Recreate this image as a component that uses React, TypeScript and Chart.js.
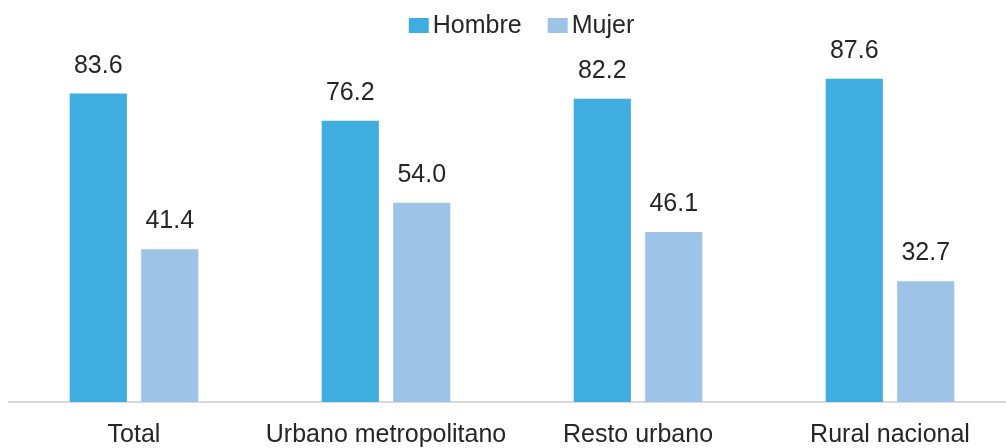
import React, { useEffect, useRef } from "react";
import { Chart, registerables } from "chart.js";

Chart.register(...registerables);

const categories = ["Total", "Urbano metropolitano", "Resto urbano", "Rural nacional"];
const hombreValues = [83.6, 76.2, 82.2, 87.6];
const mujerValues = [41.4, 54.0, 46.1, 32.7];
const seriesNames = ["Hombre", "Mujer"];
const seriesColors = ["#3FADE0", "#9DC3E6"];

const FONT = '"Liberation Sans", Arial, sans-serif';
const TEXT_COLOR = "#262626";

const valueLabelPlugin = {
  id: "valueLabels",
  afterDatasetsDraw(chart: any) {
    const ctx = chart.ctx;
    ctx.save();
    ctx.font = `25px ${FONT}`;
    ctx.fillStyle = TEXT_COLOR;
    ctx.textAlign = "center";
    ctx.textBaseline = "alphabetic";
    chart.data.datasets.forEach((ds: any, i: number) => {
      const meta = chart.getDatasetMeta(i);
      meta.data.forEach((bar: any, j: number) => {
        const v = ds.data[j] as number;
        ctx.fillText(v.toFixed(1), bar.x, bar.y - 21);
      });
    });
    ctx.restore();
  },
};

const customLegendPlugin = {
  id: "customLegend",
  afterDraw(chart: any) {
    const ctx = chart.ctx;
    ctx.save();
    ctx.font = `25px ${FONT}`;
    const boxW = 20;
    const boxH = 15;
    const gap = 4;
    const itemGap = 26;
    const items = chart.data.datasets.map((ds: any) => ({
      label: ds.label,
      color: ds.backgroundColor,
      w: ctx.measureText(ds.label).width,
    }));
    const total =
      items.reduce((s: number, it: any) => s + boxW + gap + it.w, 0) +
      itemGap * (items.length - 1);
    let x = chart.width / 2 + 9.5 - total / 2;
    const baseY = 25;
    items.forEach((it: any) => {
      ctx.fillStyle = it.color;
      ctx.fillRect(x, baseY - boxH, boxW, boxH);
      x += boxW + gap;
      ctx.fillStyle = TEXT_COLOR;
      ctx.textAlign = "left";
      ctx.textBaseline = "alphabetic";
      ctx.fillText(it.label, x, baseY);
      x += it.w + itemGap;
    });
    ctx.restore();
  },
};

export default function App() {
  const canvasRef = useRef<HTMLCanvasElement | null>(null);

  useEffect(() => {
    if (!canvasRef.current) return;
    const chart = new Chart(canvasRef.current, {
      type: "bar",
      data: {
        labels: categories,
        datasets: [
          {
            label: seriesNames[0],
            data: hombreValues,
            backgroundColor: seriesColors[0],
            categoryPercentage: 0.567,
            barPercentage: 0.8,
          },
          {
            label: seriesNames[1],
            data: mujerValues,
            backgroundColor: seriesColors[1],
            categoryPercentage: 0.567,
            barPercentage: 0.8,
          },
        ],
      },
      options: {
        animation: false,
        responsive: true,
        maintainAspectRatio: false,
        layout: { padding: { top: 25, left: 0, right: 0, bottom: 0 } },
        plugins: {
          legend: { display: false },
          tooltip: { enabled: false },
        },
        scales: {
          x: {
            grid: { display: false, drawTicks: false },
            border: { display: true, color: "#d9d9d9", width: 2 },
            ticks: {
              color: TEXT_COLOR,
              font: { family: FONT, size: 25 },
              padding: 18,
              maxRotation: 0,
              autoSkip: false,
            },
          },
          y: {
            display: false,
            min: 0,
            max: 100,
          },
        },
      },
      plugins: [valueLabelPlugin, customLegendPlugin],
    });
    return () => chart.destroy();
  }, []);

  return (
    <div style={{ position: "fixed", left: 8, top: 8, width: 1008, height: 460 }}>
      <canvas ref={canvasRef} />
    </div>
  );
}
